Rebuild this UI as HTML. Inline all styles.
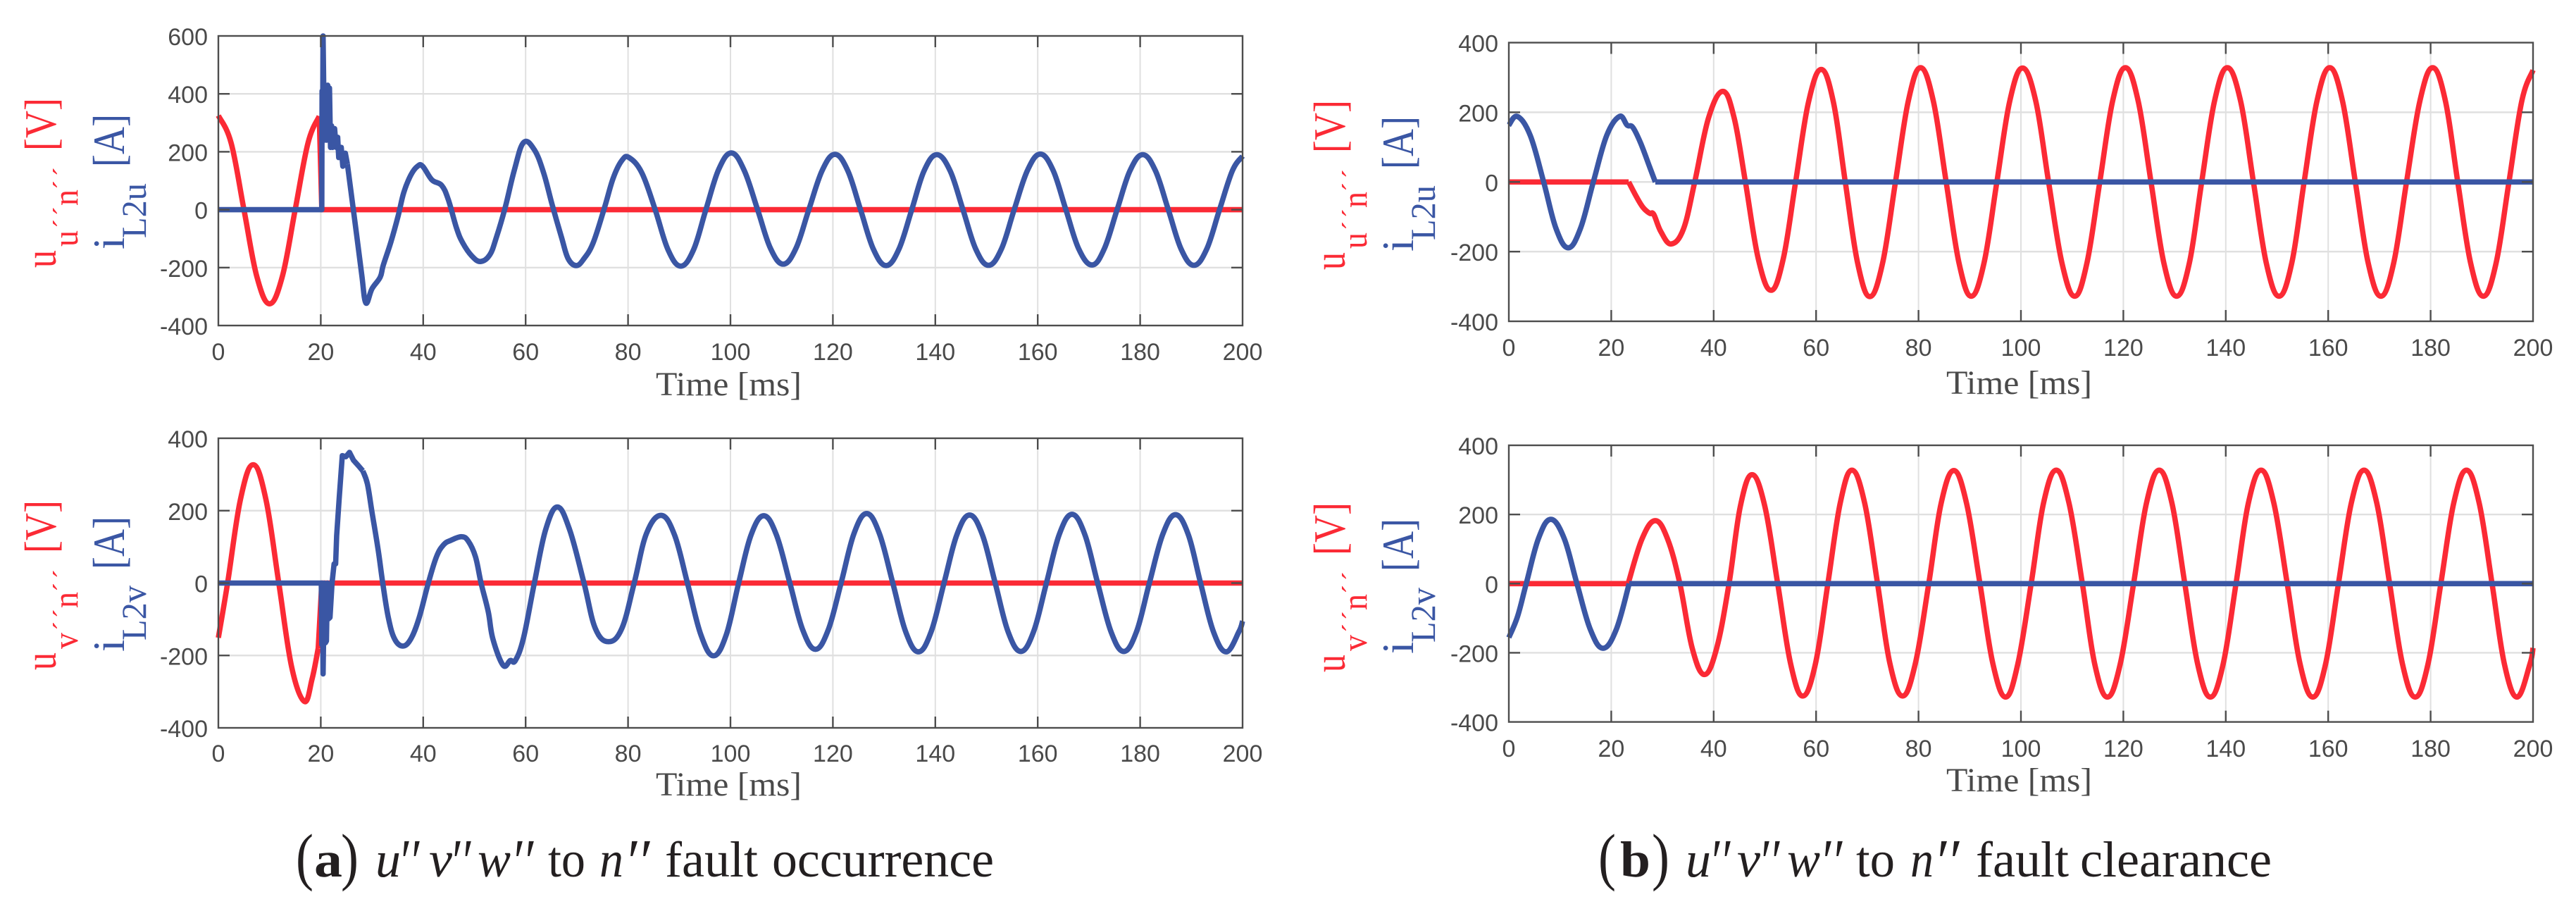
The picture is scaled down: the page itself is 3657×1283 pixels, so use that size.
<!DOCTYPE html>
<html lang="en">
<head>
<meta charset="utf-8">
<title>Fault occurrence and clearance waveforms</title>
<style>
html,body{margin:0;padding:0;background:#fff;width:3657px;height:1283px;overflow:hidden}
svg{display:block}
.tick{font-family:"Liberation Sans",sans-serif;font-size:34px;fill:#4a4a4a}
.xt{font-family:"Liberation Serif",serif;font-size:48px;fill:#4a4a4a}
.yl{font-family:"Liberation Serif",serif}
.red{fill:#fb2a35}
.blue{fill:#3a56a4}
.cap{font-family:"Liberation Serif",serif;font-size:72px;fill:#231f20}
.it{font-style:italic}
.bd{font-weight:bold}
.pr{font-style:italic;font-size:90px}
</style>
</head>
<body>
<svg id="figure" xmlns="http://www.w3.org/2000/svg" width="3657" height="1283" viewBox="0 0 3657 1283">
  <rect width="3657" height="1283" fill="#fff"/>
  <g id="plots"></g>

  <!-- Y axis titles -->
  <g class="yl">
    <text class="red" font-size="63" textLength="25" lengthAdjust="spacingAndGlyphs" transform="translate(79,380) rotate(-90)">u</text>
    <text class="red" font-size="50" textLength="23" lengthAdjust="spacingAndGlyphs" transform="translate(110,350) rotate(-90)">u</text>
    <text class="red" font-size="40" textLength="31" lengthAdjust="spacing" transform="translate(103,324) rotate(-90)">´´</text>
    <text class="red" font-size="50" textLength="23" lengthAdjust="spacingAndGlyphs" transform="translate(110,292) rotate(-90)">n</text>
    <text class="red" font-size="40" textLength="32" lengthAdjust="spacing" transform="translate(103,269) rotate(-90)">´´</text>
    <text class="red" font-size="63" textLength="75" lengthAdjust="spacingAndGlyphs" transform="translate(79,214) rotate(-90)">[V]</text>
    <text class="blue" font-size="63" transform="translate(176,354) rotate(-90)">i</text>
    <text class="blue" font-size="50" textLength="78" lengthAdjust="spacingAndGlyphs" transform="translate(207,338) rotate(-90)">L2u</text>
    <text class="blue" font-size="63" textLength="75" lengthAdjust="spacingAndGlyphs" transform="translate(176,237) rotate(-90)">[A]</text>
  </g>
  <g class="yl" transform="translate(0,571)">
    <text class="red" font-size="63" textLength="25" lengthAdjust="spacingAndGlyphs" transform="translate(79,380) rotate(-90)">u</text>
    <text class="red" font-size="50" textLength="23" lengthAdjust="spacingAndGlyphs" transform="translate(110,350) rotate(-90)">v</text>
    <text class="red" font-size="40" textLength="31" lengthAdjust="spacing" transform="translate(103,324) rotate(-90)">´´</text>
    <text class="red" font-size="50" textLength="23" lengthAdjust="spacingAndGlyphs" transform="translate(110,292) rotate(-90)">n</text>
    <text class="red" font-size="40" textLength="32" lengthAdjust="spacing" transform="translate(103,269) rotate(-90)">´´</text>
    <text class="red" font-size="63" textLength="75" lengthAdjust="spacingAndGlyphs" transform="translate(79,214) rotate(-90)">[V]</text>
    <text class="blue" font-size="63" transform="translate(176,354) rotate(-90)">i</text>
    <text class="blue" font-size="50" textLength="78" lengthAdjust="spacingAndGlyphs" transform="translate(207,338) rotate(-90)">L2v</text>
    <text class="blue" font-size="63" textLength="75" lengthAdjust="spacingAndGlyphs" transform="translate(176,237) rotate(-90)">[A]</text>
  </g>
  <g class="yl" transform="translate(1830,3)">
    <text class="red" font-size="63" textLength="25" lengthAdjust="spacingAndGlyphs" transform="translate(79,380) rotate(-90)">u</text>
    <text class="red" font-size="50" textLength="23" lengthAdjust="spacingAndGlyphs" transform="translate(110,350) rotate(-90)">u</text>
    <text class="red" font-size="40" textLength="31" lengthAdjust="spacing" transform="translate(103,324) rotate(-90)">´´</text>
    <text class="red" font-size="50" textLength="23" lengthAdjust="spacingAndGlyphs" transform="translate(110,292) rotate(-90)">n</text>
    <text class="red" font-size="40" textLength="32" lengthAdjust="spacing" transform="translate(103,269) rotate(-90)">´´</text>
    <text class="red" font-size="63" textLength="75" lengthAdjust="spacingAndGlyphs" transform="translate(79,214) rotate(-90)">[V]</text>
    <text class="blue" font-size="63" transform="translate(176,354) rotate(-90)">i</text>
    <text class="blue" font-size="50" textLength="78" lengthAdjust="spacingAndGlyphs" transform="translate(207,338) rotate(-90)">L2u</text>
    <text class="blue" font-size="63" textLength="75" lengthAdjust="spacingAndGlyphs" transform="translate(176,237) rotate(-90)">[A]</text>
  </g>
  <g class="yl" transform="translate(1830,574)">
    <text class="red" font-size="63" textLength="25" lengthAdjust="spacingAndGlyphs" transform="translate(79,380) rotate(-90)">u</text>
    <text class="red" font-size="50" textLength="23" lengthAdjust="spacingAndGlyphs" transform="translate(110,350) rotate(-90)">v</text>
    <text class="red" font-size="40" textLength="31" lengthAdjust="spacing" transform="translate(103,324) rotate(-90)">´´</text>
    <text class="red" font-size="50" textLength="23" lengthAdjust="spacingAndGlyphs" transform="translate(110,292) rotate(-90)">n</text>
    <text class="red" font-size="40" textLength="32" lengthAdjust="spacing" transform="translate(103,269) rotate(-90)">´´</text>
    <text class="red" font-size="63" textLength="75" lengthAdjust="spacingAndGlyphs" transform="translate(79,214) rotate(-90)">[V]</text>
    <text class="blue" font-size="63" transform="translate(176,354) rotate(-90)">i</text>
    <text class="blue" font-size="50" textLength="78" lengthAdjust="spacingAndGlyphs" transform="translate(207,338) rotate(-90)">L2v</text>
    <text class="blue" font-size="63" textLength="75" lengthAdjust="spacingAndGlyphs" transform="translate(176,237) rotate(-90)">[A]</text>
  </g>

  <!-- X axis titles -->
  <text class="xt" x="931" y="561" textLength="207" lengthAdjust="spacingAndGlyphs">Time [ms]</text>
  <text class="xt" x="931" y="1129" textLength="207" lengthAdjust="spacingAndGlyphs">Time [ms]</text>
  <text class="xt" x="2763" y="559" textLength="207" lengthAdjust="spacingAndGlyphs">Time [ms]</text>
  <text class="xt" x="2763" y="1123" textLength="207" lengthAdjust="spacingAndGlyphs">Time [ms]</text>

  <!-- Captions -->
  <g class="cap">
    <text x="420" y="1246" textLength="25" lengthAdjust="spacingAndGlyphs" style="font-size:90px">(</text>
    <text class="bd" x="446" y="1244" textLength="40" lengthAdjust="spacingAndGlyphs">a</text>
    <text x="484" y="1246" textLength="25" lengthAdjust="spacingAndGlyphs" style="font-size:90px">)</text>
    <text class="it" x="533" y="1244" textLength="36" lengthAdjust="spacingAndGlyphs">u</text>
    <text class="pr" x="565" y="1253" textLength="30" lengthAdjust="spacingAndGlyphs">′′</text>
    <text class="it" x="609" y="1244" textLength="33" lengthAdjust="spacingAndGlyphs">v</text>
    <text class="pr" x="638" y="1253" textLength="30" lengthAdjust="spacingAndGlyphs">′′</text>
    <text class="it" x="678" y="1244" textLength="47" lengthAdjust="spacingAndGlyphs">w</text>
    <text class="pr" x="725" y="1253" textLength="32" lengthAdjust="spacingAndGlyphs">′′</text>
    <text x="778" y="1244" textLength="53" lengthAdjust="spacingAndGlyphs">to</text>
    <text class="it" x="851" y="1244" textLength="34" lengthAdjust="spacingAndGlyphs">n</text>
    <text class="pr" x="886" y="1253" textLength="36" lengthAdjust="spacingAndGlyphs">′′</text>
    <text x="944" y="1244" textLength="132" lengthAdjust="spacingAndGlyphs">fault</text>
    <text x="1096" y="1244" textLength="315" lengthAdjust="spacingAndGlyphs">occurrence</text>
  </g>
  <g class="cap">
    <text x="2269" y="1246" textLength="25" lengthAdjust="spacingAndGlyphs" style="font-size:90px">(</text>
    <text class="bd" x="2300" y="1244" textLength="43" lengthAdjust="spacingAndGlyphs">b</text>
    <text x="2345" y="1246" textLength="25" lengthAdjust="spacingAndGlyphs" style="font-size:90px">)</text>
    <text class="it" x="2393" y="1244" textLength="36" lengthAdjust="spacingAndGlyphs">u</text>
    <text class="pr" x="2426" y="1253" textLength="30" lengthAdjust="spacingAndGlyphs">′′</text>
    <text class="it" x="2466" y="1244" textLength="33" lengthAdjust="spacingAndGlyphs">v</text>
    <text class="pr" x="2496" y="1253" textLength="30" lengthAdjust="spacingAndGlyphs">′′</text>
    <text class="it" x="2537" y="1244" textLength="47" lengthAdjust="spacingAndGlyphs">w</text>
    <text class="pr" x="2583" y="1253" textLength="32" lengthAdjust="spacingAndGlyphs">′′</text>
    <text x="2635" y="1244" textLength="55" lengthAdjust="spacingAndGlyphs">to</text>
    <text class="it" x="2712" y="1244" textLength="33" lengthAdjust="spacingAndGlyphs">n</text>
    <text class="pr" x="2745" y="1253" textLength="36" lengthAdjust="spacingAndGlyphs">′′</text>
    <text x="2805" y="1244" textLength="132" lengthAdjust="spacingAndGlyphs">fault</text>
    <text x="2953" y="1244" textLength="272" lengthAdjust="spacingAndGlyphs">clearance</text>
  </g>
</svg>

<script>
// ---- Tick labels ----
const xTickValues = [0,20,40,60,80,100,120,140,160,180,200];
const yTicksTall = [-400,-200,0,200,400,600];
const yTicksStandard = [-400,-200,0,200,400];

// ---- Panel (a) top: voltage ----
const aTopVoltCurveT = [0,2.5,5,7.5,10,12.5,15,17.5,19.7];
const aTopVoltCurveV = [325,230,0,-230,-325,-230,0,230,323];
const aTopVoltFlatT = [19.7,20.2,200];
const aTopVoltFlatV = [323,0,0];

// ---- Panel (a) top: current ----
const aTopCurrSpikeT = [0,20.2,20.25,20.35,20.45,20.7,20.9,21.1,21.35,21.55,21.7,21.9,22.1,22.3,22.7,23,23.3,23.5,24,24.3,24.8,25.2];
const aTopCurrSpikeV = [0,0,410,240,600,240,430,240,430,240,420,215,290,215,280,215,250,180,215,150,195,157];
const aTopCurrCurveT = [25.2,26.1,27,28,28.8,30,31.6,32.2,33.7,35.1,36.2,37.6,38.9,39.9,41.7,43.6,44.9,46.5,47.7,49.5,51.2,53,54.3,56,57.8,59.6,61.7,63.5,65.2,67,68.3,69.9,71.4,73.2,75.4,77.1,78.8,80.2,82.7,85.3,87.8,90.3,92.8,95.2,97.7,100.2,102.7,105.3,107.8,110.3,112.8,115.3,117.9,120.4,122.9,125.4,127.9,130.4,132.9,135.4,137.8,140.3,142.9,145.4,147.9,150.4,152.9,155.4,158,160.5,163,165.5,168,170.6,173,175.5,178,180.5,183,185.5,188,190.5,193,195.5,198,200];
const aTopCurrCurveV = [157,35,-87,-225,-322,-273,-233,-192,-111,-22,59,120,150,150,103,84,35,-63,-114,-160,-179,-156,-95,7,137,232,207,128,16,-95,-169,-193,-169,-114,7,109,170,180,127,0,-138,-195,-138,0,139,196,135,0,-133,-188,-133,0,135,191,135,0,-136,-193,-136,0,134,190,134,0,-136,-192,-136,0,136,192,136,0,-135,-191,-135,0,134,190,134,0,-136,-192,-136,0,134,185];

// ---- Panel (a) bottom: voltage ----
const aBotVoltCurveT = [0,1.8,4.3,6.8,9.3,11.8,14.3,16.8,18.3,19.5];
const aBotVoltCurveV = [-151,0,230,327,230,0,-231,-327,-265,-180];
const aBotVoltFlatT = [19.5,20.2,200];
const aBotVoltFlatV = [-180,0,0];

// ---- Panel (a) bottom: current ----
const aBotCurrSpikeT = [0,20.1,20.2,20.3,20.45,20.7,20.9,21.1,21.3,21.5,21.8,22.2,22.6,22.9,23.1,23.6,24.2,24.9,25.6,26.4,27.3,28.2];
const aBotCurrSpikeV = [0,0,-170,0,-251,0,-165,-160,0,-99,-95,0,53,53,131,235,352,349,361,339,325,310];
const aBotCurrCurveT = [28.2,29.1,30,31.2,32.1,33.2,34.4,36,37.6,39.2,41,42.6,44,45.4,47.5,48.8,50.2,51.3,52.7,53.6,55.6,57,58,59.6,61.7,63.9,66.2,68.6,71.4,73.6,76.2,78.8,81.2,83.6,86.5,89.1,91.6,94.2,96.7,99.2,101.6,104,106.5,109,111.6,114.1,116.6,119.1,121.6,124.1,126.6,129.1,131.7,134.2,136.7,139.2,141.7,144.2,146.7,149.2,151.7,154.2,156.7,159.2,161.7,164.2,166.7,169.2,171.7,174.3,176.8,179.3,181.8,184.4,186.9,189.4,191.8,194.3,196.8,199.3,200];
const aBotCurrCurveV = [310,274,196,92,0,-96,-154,-174,-154,-96,0,73,106,118,128,116,73,0,-79,-154,-227,-214,-214,-151,0,147,210,147,0,-125,-162,-125,0,137,187,132,0,-142,-201,-142,0,132,186,132,0,-129,-183,-129,0,136,192,136,0,-134,-190,-134,0,133,188,133,0,-134,-189,-134,0,134,190,134,0,-134,-189,-134,0,134,189,134,0,-134,-190,-134,-105];

// ---- Panel (b) top: voltage ----
const bTopVoltFlatT = [0,23.4];
const bTopVoltFlatV = [0,0];
const bTopVoltCurveT = [23.4,24.9,26.2,27.5,28.3,29.7,31.7,34.1,36.3,39,41.8,44,46.2,48.7,51.2,53.6,56,58.5,61,63.4,65.7,68.1,70.5,73,75.5,78,80.4,82.9,85.4,87.9,90.3,92.8,95.3,97.8,100.3,102.9,105.4,108,110.5,112.9,115.4,117.9,120.4,122.9,125.4,127.9,130.4,132.9,135.3,137.8,140.3,142.9,145.4,147.9,150.4,152.9,155.3,157.8,160.3,162.8,165.3,167.8,170.3,172.8,175.3,177.9,180.4,182.9,185.3,187.8,190.3,192.8,195.3,197.8,200];
const bTopVoltCurveV = [0,-42,-73,-90,-93,-143,-178,-135,0,184,260,184,0,-220,-311,-220,0,228,323,228,0,-232,-329,-232,0,232,328,232,0,-232,-328,-232,0,231,327,232,0,-232,-328,-232,0,232,328,232,0,-232,-328,-232,0,232,328,232,0,-232,-328,-232,0,232,328,232,0,-232,-328,-232,0,232,328,232,0,-232,-328,-232,0,232,321];

// ---- Panel (b) top: current ----
const bTopCurrCurveT = [0,1.7,4.2,6.8,9.2,11.6,14,16.5,19.1,21.6,23.1,24.2,25.7,27.5,28.6];
const bTopCurrCurveV = [163,188,133,0,-133,-189,-133,0,133,188,163,157,113,43,0];
const bTopCurrFlatT = [28.6,200];
const bTopCurrFlatV = [0,0];

// ---- Panel (b) bottom: voltage ----
const bBotVoltFlatT = [0,23.3];
const bBotVoltFlatV = [0,0];
const bBotVoltCurveT = [23.3,26,28.6,31,33.4,35.8,38.2,40.6,43,45.2,47.5,50,52.5,55,57.4,59.9,62.3,64.7,67,69.5,72,74.4,76.9,79.4,82,84.4,86.9,89.4,92,94.5,97,99.4,102,104.4,106.9,109.4,112,114.4,116.9,119.4,122,124.5,127,129.5,132,134.5,137,139.5,142,144.4,146.9,149.4,152,154.5,157,159.5,162,164.5,167,169.5,172,174.5,177,179.5,182,184.5,187,189.5,192,194.4,196.9,199.4,200];
const bBotVoltCurveV = [0,129,182,129,0,-186,-263,-186,0,223,315,223,0,-230,-325,-230,0,232,328,232,0,-230,-325,-230,0,231,327,231,0,-230,-328,-232,0,232,328,232,0,-232,-328,-232,0,232,328,232,0,-232,-328,-232,0,232,328,232,0,-232,-328,-232,0,232,328,232,0,-232,-328,-232,0,232,328,232,0,-232,-328,-232,-186];

// ---- Panel (b) bottom: current ----
const bBotCurrCurveT = [0,1.7,3.4,5.8,8.2,10.8,13.3,15.9,18.4,21,23.5];
const bBotCurrCurveV = [-156,-95,0,131,186,131,0,-132,-187,-132,0];
const bBotCurrFlatT = [23.5,200];
const bBotCurrFlatV = [0,0];

// ---- Layout ----
const RED = '#fb2a35';
const BLUE = '#3a56a4';
const SVGNS = 'http://www.w3.org/2000/svg';
const TANGENT_GAIN = 1.11;
const plots = document.getElementById('plots');

function makeX(p){ return t => p.left + (t - 0) / 200 * (p.right - p.left); }
function makeY(p){ return v => p.bottom - (v - p.yMin) / (p.yMax - p.yMin) * (p.bottom - p.top); }

function lineEl(parent, x1, y1, x2, y2, color, width){
  const l = document.createElementNS(SVGNS, 'line');
  l.setAttribute('x1', x1);
  l.setAttribute('y1', y1);
  l.setAttribute('x2', x2);
  l.setAttribute('y2', y2);
  l.setAttribute('stroke', color);
  l.setAttribute('stroke-width', width);
  parent.appendChild(l);
  return l;
}

function straightPath(ts, vs, X, Y){
  return ts.map((t, i) => (i ? 'L' : 'M') + X(t).toFixed(2) + ' ' + Y(vs[i]).toFixed(2)).join(' ');
}

function splinePath(ts, vs, X, Y){
  const pts = ts.map((t, i) => [X(t), Y(vs[i])]);
  const k = TANGENT_GAIN / 6;
  let d = 'M' + pts[0][0].toFixed(2) + ' ' + pts[0][1].toFixed(2);
  for (let i = 0; i < pts.length - 1; i++) {
    const p0 = pts[i - 1] || pts[i], p1 = pts[i], p2 = pts[i + 1], p3 = pts[i + 2] || pts[i + 1];
    const c1x = p1[0] + (p2[0] - p0[0]) * k, c1y = p1[1] + (p2[1] - p0[1]) * k;
    const c2x = p2[0] - (p3[0] - p1[0]) * k, c2y = p2[1] - (p3[1] - p1[1]) * k;
    d += ' C' + c1x.toFixed(2) + ' ' + c1y.toFixed(2) + ' ' + c2x.toFixed(2) + ' ' + c2y.toFixed(2) + ' ' + p2[0].toFixed(2) + ' ' + p2[1].toFixed(2);
  }
  return d;
}

function drawPanel(p){
  const X = makeX(p), Y = makeY(p);
  const g = document.createElementNS(SVGNS, 'g');
  
  
  plots.appendChild(g);

  // grid
  const grid = document.createElementNS(SVGNS, 'g');
  
  
  g.appendChild(grid);
  xTickValues.forEach(t => {
    if (t > 0 && t < 200) lineEl(grid, X(t), p.top, X(t), p.bottom, '#e0e0e0', 2);
  });
  p.yTicks.forEach(v => {
    if (v > p.yMin && v < p.yMax) lineEl(grid, p.left, Y(v), p.right, Y(v), '#e0e0e0', 2.4);
  });

  // traces
  p.traces.forEach(tr => {
    const path = document.createElementNS(SVGNS, 'path');
    
    
    path.setAttribute('d', tr.smooth ? splinePath(tr.t, tr.v, X, Y) : straightPath(tr.t, tr.v, X, Y));
    path.setAttribute('fill', 'none');
    path.setAttribute('stroke', tr.color);
    path.setAttribute('stroke-width', tr.width || 7.6);
    path.setAttribute('stroke-linejoin', 'round');
    path.setAttribute('stroke-linecap', 'butt');
    g.appendChild(path);
  });

  // axes box and ticks
  const axes = document.createElementNS(SVGNS, 'g');
  
  
  g.appendChild(axes);
  const box = document.createElementNS(SVGNS, 'rect');
  box.setAttribute('x', p.left);
  box.setAttribute('y', p.top);
  box.setAttribute('width', p.right - p.left);
  box.setAttribute('height', p.bottom - p.top);
  box.setAttribute('fill', 'none');
  box.setAttribute('stroke', '#4d4d4d');
  box.setAttribute('stroke-width', 2.4);
  axes.appendChild(box);

  xTickValues.forEach(t => {
    if (t > 0 && t < 200) {
      lineEl(axes, X(t), p.top, X(t), p.top + 16, '#4d4d4d', 2.4);
      lineEl(axes, X(t), p.bottom, X(t), p.bottom - 16, '#4d4d4d', 2.4);
    }
    const label = document.createElementNS(SVGNS, 'text');
    
    
    label.setAttribute('class', 'tick');
    label.setAttribute('text-anchor', 'middle');
    label.setAttribute('x', X(t));
    label.setAttribute('y', p.xLabelY);
    label.textContent = String(t);
    g.appendChild(label);
  });

  p.yTicks.forEach(v => {
    if (v > p.yMin && v < p.yMax) {
      lineEl(axes, p.left, Y(v), p.left + 16, Y(v), '#4d4d4d', 2.4);
      lineEl(axes, p.right, Y(v), p.right - 16, Y(v), '#4d4d4d', 2.4);
    }
    const label = document.createElementNS(SVGNS, 'text');
    
    
    label.setAttribute('class', 'tick');
    label.setAttribute('text-anchor', 'end');
    label.setAttribute('x', p.left - 15);
    label.setAttribute('y', Y(v) + 13);
    label.textContent = String(v);
    g.appendChild(label);
  });
}

const panels = [
  { left:310, right:1764, top:51, bottom:462, yMin:-400, yMax:600, yTicks:yTicksTall, xLabelY:511,
    traces:[
      {name:'voltage-trace-curve', t:aTopVoltCurveT, v:aTopVoltCurveV, color:RED, smooth:true},
      {name:'voltage-trace-flat', t:aTopVoltFlatT, v:aTopVoltFlatV, color:RED, smooth:false},
      {name:'current-trace-spike', t:aTopCurrSpikeT, v:aTopCurrSpikeV, color:BLUE, smooth:false},
      {name:'current-trace-curve', t:aTopCurrCurveT, v:aTopCurrCurveV, color:BLUE, smooth:true}
    ]},
  { left:310, right:1764, top:622, bottom:1033, yMin:-400, yMax:400, yTicks:yTicksStandard, xLabelY:1081,
    traces:[
      {name:'voltage-trace-curve', t:aBotVoltCurveT, v:aBotVoltCurveV, color:RED, smooth:true},
      {name:'voltage-trace-flat', t:aBotVoltFlatT, v:aBotVoltFlatV, color:RED, smooth:false},
      {name:'current-trace-spike', t:aBotCurrSpikeT, v:aBotCurrSpikeV, color:BLUE, smooth:false},
      {name:'current-trace-curve', t:aBotCurrCurveT, v:aBotCurrCurveV, color:BLUE, smooth:true}
    ]},
  { left:2142, right:3596, top:60.5, bottom:456, yMin:-400, yMax:400, yTicks:yTicksStandard, xLabelY:505,
    traces:[
      {name:'voltage-trace-flat', t:bTopVoltFlatT, v:bTopVoltFlatV, color:RED, smooth:false},
      {name:'voltage-trace-curve', t:bTopVoltCurveT, v:bTopVoltCurveV, color:RED, smooth:true},
      {name:'current-trace-curve', t:bTopCurrCurveT, v:bTopCurrCurveV, color:BLUE, smooth:true},
      {name:'current-trace-flat', t:bTopCurrFlatT, v:bTopCurrFlatV, color:BLUE, smooth:false}
    ]},
  { left:2142, right:3596, top:632, bottom:1024.6, yMin:-400, yMax:400, yTicks:yTicksStandard, xLabelY:1074,
    traces:[
      {name:'voltage-trace-flat', t:bBotVoltFlatT, v:bBotVoltFlatV, color:RED, smooth:false},
      {name:'voltage-trace-curve', t:bBotVoltCurveT, v:bBotVoltCurveV, color:RED, smooth:true},
      {name:'current-trace-curve', t:bBotCurrCurveT, v:bBotCurrCurveV, color:BLUE, smooth:true},
      {name:'current-trace-flat', t:bBotCurrFlatT, v:bBotCurrFlatV, color:BLUE, smooth:false}
    ]}
];

panels.forEach(drawPanel);
</script>
</body>
</html>
